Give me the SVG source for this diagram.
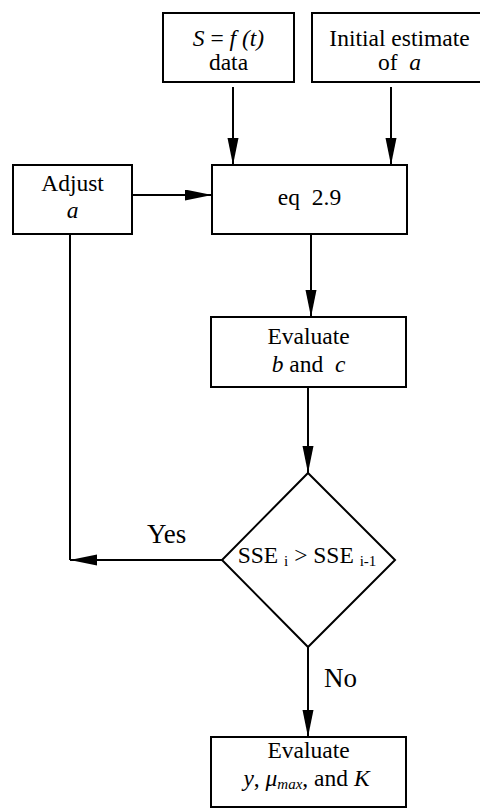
<svg xmlns="http://www.w3.org/2000/svg" width="480" height="808" viewBox="0 0 480 808" font-family="'Liberation Serif', 'DejaVu Serif', serif">
<style>
.box{fill:#fff;stroke:#000;stroke-width:2}
.ln{fill:none;stroke:#000;stroke-width:2}
text{font-family:'Liberation Serif','DejaVu Serif',serif;font-size:23.5px;fill:#000}
.c{text-anchor:middle}
.i{font-style:italic}
.lbl{font-size:27px}
.sub{font-size:15px}
</style>
<defs>
<marker id="ah" markerUnits="userSpaceOnUse" markerWidth="28" markerHeight="12" refX="27" refY="5.5" orient="auto">
<path d="M0,0 L27,5.5 L0,11 z" fill="#000"/>
</marker>
</defs>
<rect width="480" height="808" fill="#fff"/>
<g id="connectors">
<path class="ln" d="M233,87 V165" marker-end="url(#ah)"/>
<path class="ln" d="M391,87 V165" marker-end="url(#ah)"/>
<path class="ln" d="M132,195 H212" marker-end="url(#ah)"/>
<path class="ln" d="M311,234 V317" marker-end="url(#ah)"/>
<path class="ln" d="M308,387 V473" marker-end="url(#ah)"/>
<path class="ln" d="M70,234 V560"/>
<path class="ln" d="M222,560 H70" marker-end="url(#ah)"/>
<path class="ln" d="M308,645 V737" marker-end="url(#ah)"/>
<text class="lbl" x="147" y="543">Yes</text>
<text class="lbl" x="324" y="687">No</text>
</g>
<g id="data">
<rect class="box" x="163" y="13" width="131" height="69"/>
<text class="c" x="228.5" y="46" xml:space="preserve"><tspan class="i">S</tspan> = <tspan class="i">f (t)</tspan></text>
<text class="c" x="228.5" y="70">data</text>
</g>
<g id="initial">
<rect class="box" x="312" y="13" width="172" height="69"/>
<text class="c" x="399.5" y="46">Initial estimate</text>
<text class="c" x="399.5" y="70" xml:space="preserve">of  <tspan class="i">a</tspan></text>
</g>
<g id="adjust">
<rect class="box" x="13" y="165" width="119" height="69"/>
<text class="c" x="72.5" y="191">Adjust</text>
<text class="c i" x="72.5" y="218">a</text>
</g>
<g id="eq">
<rect class="box" x="212" y="165" width="195" height="69"/>
<text class="c" x="309.5" y="205" xml:space="preserve">eq  2.9</text>
</g>
<g id="evalbc">
<rect class="box" x="211" y="317" width="195" height="70"/>
<text class="c" x="308.5" y="344">Evaluate</text>
<text class="c" x="308.5" y="372" xml:space="preserve"><tspan class="i">b</tspan> and  <tspan class="i">c</tspan></text>
</g>
<g id="decision">
<path class="box" d="M308,473 L395,560 L308,647 L222,560 z"/>
<text class="c" x="307" y="563" xml:space="preserve">SSE <tspan class="sub" dy="3">i</tspan><tspan dy="-3"> &gt; SSE </tspan><tspan class="sub" dy="3">i-1</tspan></text>
</g>
<g id="evalfinal">
<rect class="box" x="211" y="737" width="195" height="70"/>
<text class="c" x="308.5" y="758">Evaluate</text>
<text class="c" x="306.5" y="786" xml:space="preserve"><tspan class="i">y</tspan>, <tspan class="i">μ</tspan><tspan class="i sub" dy="3">max</tspan><tspan dy="-3">, and </tspan><tspan class="i">K</tspan></text>
</g>
</svg>
